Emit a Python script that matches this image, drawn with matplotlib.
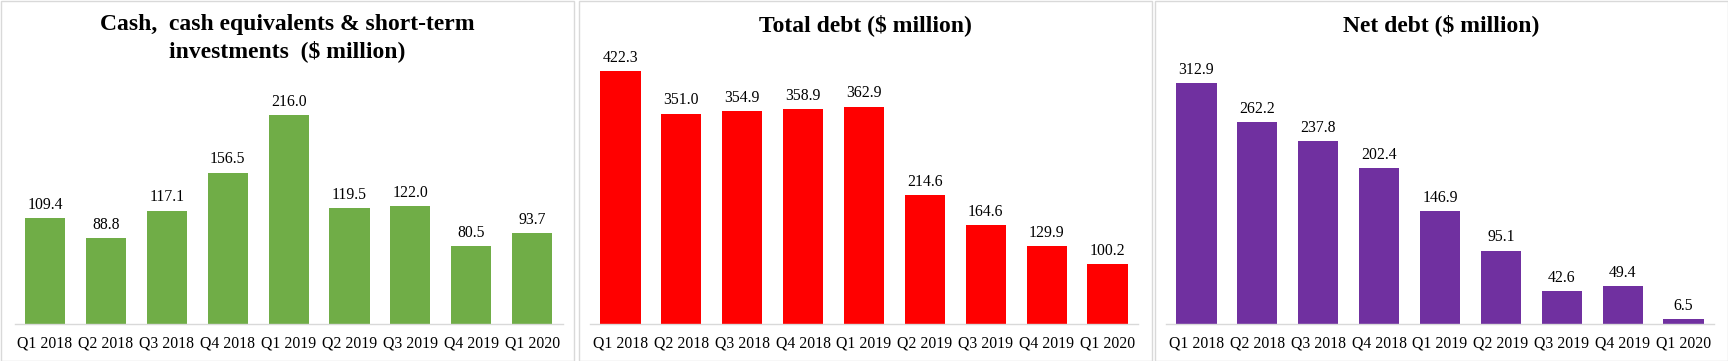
import matplotlib
matplotlib.use("Agg")
import matplotlib.pyplot as plt
from matplotlib.patches import Rectangle

plt.rcParams["font.family"] = ["Liberation Serif", "DejaVu Serif"]

quarters = ["Q1 2018", "Q2 2018", "Q3 2018", "Q4 2018", "Q1 2019",
            "Q2 2019", "Q3 2019", "Q4 2019", "Q1 2020"]
cash = [109.4, 88.8, 117.1, 156.5, 216.0, 119.5, 122.0, 80.5, 93.7]
total_debt = [422.3, 351.0, 354.9, 358.9, 362.9, 214.6, 164.6, 129.9, 100.2]
net_debt = [312.9, 262.2, 237.8, 202.4, 146.9, 95.1, 42.6, 49.4, 6.5]

titles = ["Cash,  cash equivalents & short-term\ninvestments  ($ million)",
          "Total debt ($ million)",
          "Net debt ($ million)"]
series = [cash, total_debt, net_debt]
colors = ["#70AD47", "#FF0000", "#7030A0"]
ymax = [293.4, 474.0, 368.8]

W, H = 1728, 361
fig = plt.figure(figsize=(W / 100, H / 100), dpi=100)

# panel geometry in pixels: (panel left, axes left)
panels = [(0, 14.6), (578, 590), (1154, 1166)]
panel_w = 574
ax_w = 548
ax_bottom = 324
ax_top = 40

for (px, axl), title, vals, col, ym in zip(panels, titles, series, colors, ymax):
    # grey border around each panel
    fig.patches.append(Rectangle(((px + 0.5) / W, 0.5 / H), (panel_w - 1) / W, (H - 1.5) / H,
                                 transform=fig.transFigure, fill=False,
                                 edgecolor="#D9D9D9", linewidth=1))
    ax = fig.add_axes([axl / W, (H - ax_bottom) / H, ax_w / W, (ax_bottom - ax_top) / H])
    x = range(len(quarters))
    bars = ax.bar(x, vals, width=0.66, color=col)
    for b, v in zip(bars, vals):
        ax.annotate(f"{v:.1f}", (b.get_x() + b.get_width() / 2, b.get_height()),
                    xytext=(0, 3.8), textcoords="offset points",
                    ha="center", va="bottom", fontsize=11.3)
    ax.set_xlim(-0.5, len(quarters) - 0.5)
    ax.set_ylim(0, ym)
    ax.set_xticks(list(x))
    ax.set_xticklabels(quarters, fontsize=11.3)
    ax.tick_params(axis="x", length=0, pad=8.5)
    ax.set_yticks([])
    for s in ["top", "left", "right"]:
        ax.spines[s].set_visible(False)
    ax.spines["bottom"].set_color("#D9D9D9")
    ax.spines["bottom"].set_linewidth(1)
    fig.text((px + panel_w / 2) / W, 1 - 14 / H, title, ha="center", va="top",
             fontsize=17, fontweight="bold", linespacing=1.3)

fig.savefig("out.png", dpi=100)
